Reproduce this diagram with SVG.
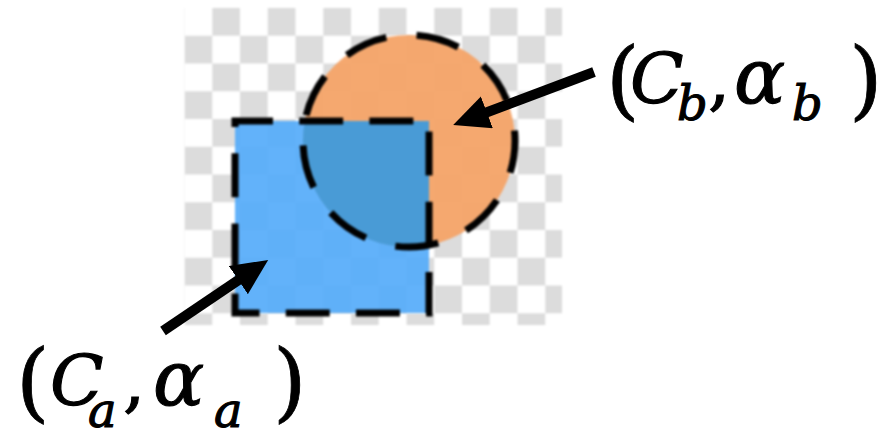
<svg xmlns="http://www.w3.org/2000/svg" width="891" height="438" viewBox="0 0 891 438">
  <style>
    .lbl { font-family: "DejaVu Serif", "Liberation Serif", serif; fill: #000; stroke: #000; stroke-width: 1.1; }
    .it { font-style: italic; font-size: 70px; }
    .al { font-style: italic; font-size: 76px; }
    .up { font-size: 70px; }
    .par { font-size: 86px; stroke-width: 0.8; }
    .sub { font-style: italic; font-size: 48px; }
    .outline { fill: none; stroke: #000; stroke-width: 7; }
    .shaft { fill: none; stroke: #000; stroke-width: 10; stroke-linecap: butt; }
  </style>
  <defs>
    <pattern id="checker" patternUnits="userSpaceOnUse" x="184.5" y="8" width="55.5" height="55.5">
      <rect x="0" y="0" width="55.5" height="55.5" fill="#ffffff"/>
      <rect x="27.75" y="0" width="27.75" height="27.75" fill="#dcdcdc"/>
      <rect x="0" y="27.75" width="27.75" height="27.75" fill="#dcdcdc"/>
    </pattern>
    <clipPath id="sqclip">
      <rect x="235" y="121" width="194" height="192"/>
    </clipPath>
    <filter id="soft" x="-5%" y="-5%" width="110%" height="110%">
      <feGaussianBlur stdDeviation="1.2"/>
    </filter>
    <marker id="head" markerUnits="userSpaceOnUse" markerWidth="40" markerHeight="40" refX="2" refY="17" orient="auto">
      <path d="M0,0 L36,17 L0,34 Z" fill="#000"/>
    </marker>
  </defs>

  <g id="background" filter="url(#soft)">
    <rect x="184.5" y="8" width="377.5" height="317" fill="url(#checker)"/>
  </g>

  <g id="node-b" filter="url(#soft)">
    <circle cx="409" cy="141" r="106" fill="#f5a46a" fill-opacity="0.96"/>
  </g>

  <g id="node-a" filter="url(#soft)">
    <rect x="235" y="121" width="194" height="192" fill="#55acfa" fill-opacity="0.93"/>
    <circle cx="409" cy="141" r="106" fill="#4a9bd6" clip-path="url(#sqclip)"/>
  </g>

  <g id="outlines" filter="url(#soft)">
    <circle class="outline" cx="409" cy="141" r="106" stroke-dasharray="43.5 30.5" stroke-dashoffset="11.3"/>
    <path class="outline" d="M235,121 H429 V313 H235 Z" stroke-dasharray="44 26.18" stroke-dashoffset="6"/>
  </g>

  <g id="connectors">
    <line class="shaft" x1="163" y1="331" x2="240" y2="279" marker-end="url(#head)"/>
    <line class="shaft" x1="594" y1="72" x2="485" y2="113" marker-end="url(#head)"/>
  </g>

  <g id="label-b" class="lbl">
    <text class="par" x="606" y="109">(</text>
    <text class="it" x="630" y="103">C</text>
    <text class="sub" x="677" y="120">b</text>
    <text class="up" x="708" y="103">,</text>
    <text class="al" x="734" y="103">α</text>
    <text class="sub" x="792" y="120">b</text>
    <text class="par" x="849" y="109">)</text>
  </g>

  <g id="label-a" class="lbl">
    <text class="par" x="16" y="411">(</text>
    <text class="it" x="50" y="405">C</text>
    <text class="sub" x="88" y="427">a</text>
    <text class="up" x="123" y="405">,</text>
    <text class="al" x="153" y="405">α</text>
    <text class="sub" x="214" y="427">a</text>
    <text class="par" x="273" y="411">)</text>
  </g>
</svg>
